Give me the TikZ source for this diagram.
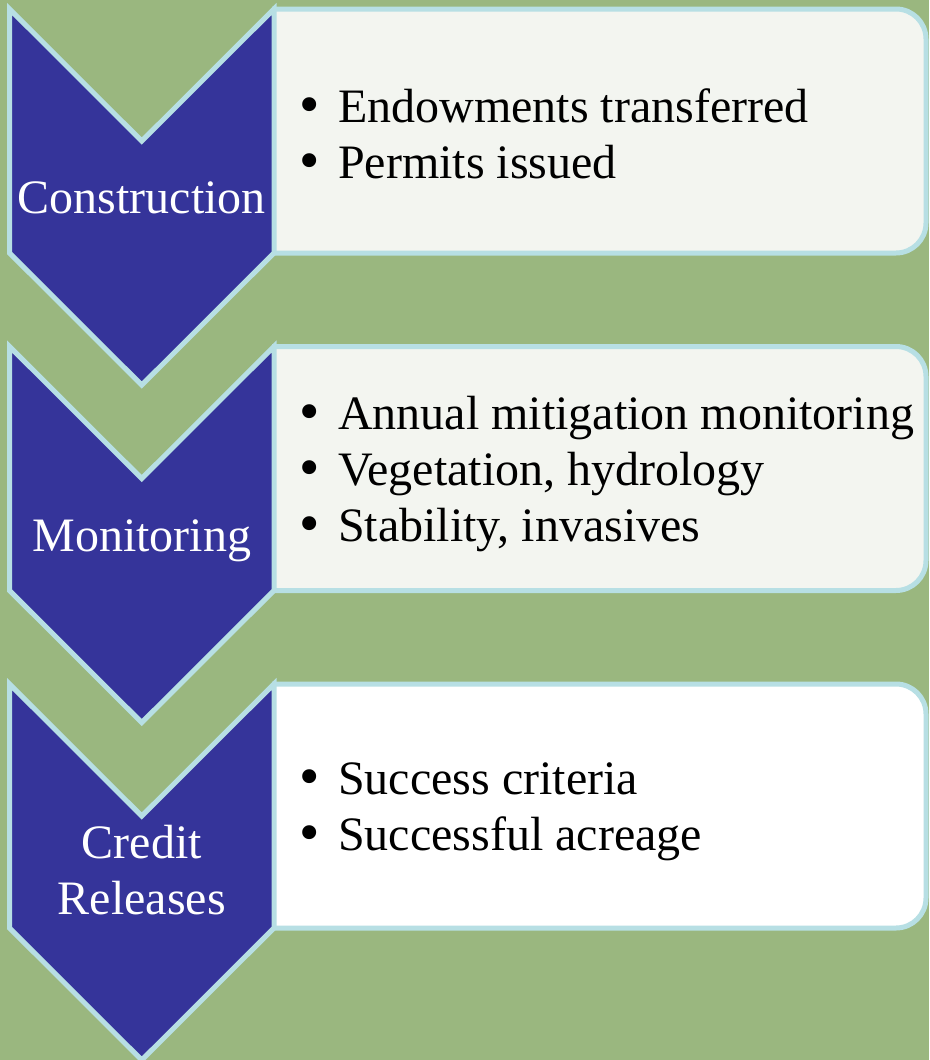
\documentclass[tikz,border=0pt]{standalone}
\usepackage{fontspec}
\setmainfont{Liberation Serif}
\newfontfamily\dotfont{DejaVu Sans}
\usetikzlibrary{positioning}

\definecolor{BackGreen}{RGB}{154,183,127}
\definecolor{ChevronBlue}{RGB}{53,52,154}
\definecolor{EdgeBlue}{RGB}{183,223,228}
\definecolor{BoxGrey}{RGB}{243,245,240}

\newcommand{\itemdot}{\makebox[43pt][l]{\dotfont\textbullet}}

\begin{document}
\begin{tikzpicture}[
  x=1pt, y=-1pt,
  every node/.style = {inner sep=0pt, font=\fontsize{48}{56}\selectfont},
  ChevronStyle/.style = {fill=ChevronBlue, draw=EdgeBlue, line width=5pt, line join=miter},
  BoxStyle/.style = {fill=#1, draw=EdgeBlue, line width=5pt, rounded corners=30pt},
  StageLabel/.style = {text=white, align=center},
  ItemList/.style = {text=black, align=left, anchor=west}
  ]
  \useasboundingbox (0,0) rectangle (929,1060);
  \fill[BackGreen] (0,0) rectangle (929,1060);

  \foreach \t/\c in {9/BoxGrey, 346.5/BoxGrey, 684/white}
  {
    \path[BoxStyle=\c] (272,\t) -- (926,\t) -- (926,\t+244) -- (272,\t+244);
    \path[ChevronStyle] (9.5,\t) -- (141.75,\t+132) -- (274,\t) -- (274,\t+244)
      -- (141.75,\t+376) -- (9.5,\t+244) -- cycle;
  }

  \node[StageLabel, anchor=base] (1) at (141.75,213) {Construction};
  \node[StageLabel, anchor=base] (2) at (141.75,551) {Monitoring};
  \node[StageLabel] (3) at (141.75,870) {Credit\\Releases};

  \node[ItemList] (1a) at (295,134)
    {\itemdot Endowments transferred\\
     \itemdot Permits issued};
  \node[ItemList] (2a) at (295,474)
    {\itemdot Annual mitigation monitoring\\
     \itemdot Vegetation, hydrology\\
     \itemdot Stability, invasives};
  \node[ItemList] (3a) at (295,812)
    {\itemdot Success criteria\\
     \itemdot Successful acreage};

\end{tikzpicture}
\end{document}
